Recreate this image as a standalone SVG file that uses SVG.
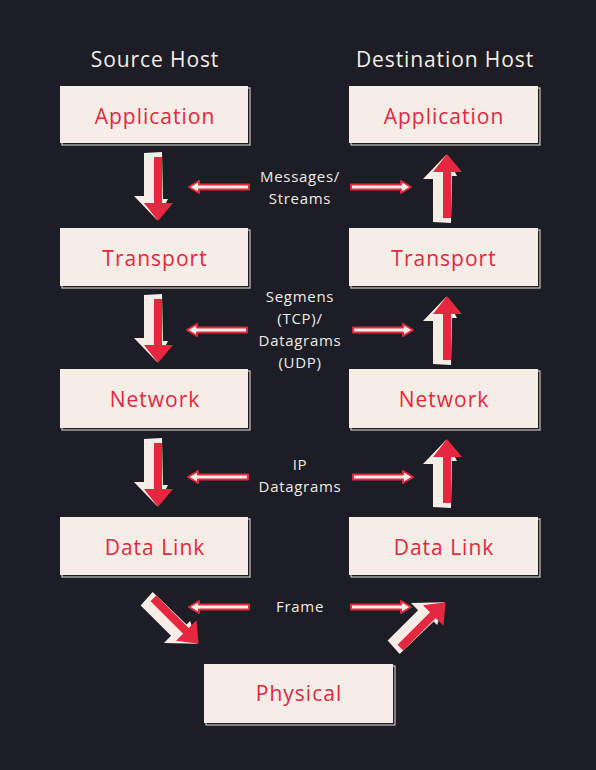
<svg xmlns="http://www.w3.org/2000/svg" xmlns:xlink="http://www.w3.org/1999/xlink" width="596" height="770" viewBox="0 0 596 770">
<style>
.bg{fill:#1c1d25}
.box{fill:#f5ede6}
.sh{fill:none;stroke:#c9c4be;stroke-width:1.2}
.lbl{font-family:"Open Sans","Noto Sans",sans-serif;font-size:21px;fill:#e5273f;text-anchor:middle;letter-spacing:1px}
.hdr{font-family:"Open Sans","Noto Sans",sans-serif;font-size:21px;fill:#f5ede6;text-anchor:middle;letter-spacing:0.9px}
.mid{font-family:"Open Sans","Noto Sans",sans-serif;font-size:15px;fill:#f0ebe5;text-anchor:middle;letter-spacing:0.7px}
.hc{fill:#f5ede6;stroke:#e5273f;stroke-width:2;stroke-linejoin:round}
.cream{fill:#f5ede6}
.red{fill:#e5273f}
</style>
<defs>
<g id="down">
<polygon class="cream" points="-14,-36 4,-37 5,10 10,10 -1,31 -24,7 -14,7"/>
<polygon class="red" points="-4,-32 4,-32 4,14 15,14 0,32 -14,14 -4,14"/>
</g>
<g id="up" transform="scale(1,-1)">
<use xlink:href="#down"/>
</g>
<polygon id="harr" class="hc" points="0,0 10,-6 10,-2.5 60,-2.5 60,2.5 10,2.5 10,6"/>
</defs>
<rect class="bg" x="0" y="0" width="596" height="770"/>
<text class="hdr" x="155" y="67">Source Host</text>
<text class="hdr" x="445" y="67">Destination Host</text>
<g id="src-app"><rect class="sh" x="62" y="88" width="188" height="57"/><rect class="box" x="60" y="86" width="188" height="57"/><text class="lbl" x="155" y="124">Application</text></g>
<g id="dst-app"><rect class="sh" x="351" y="88" width="189" height="57"/><rect class="box" x="349" y="86" width="189" height="57"/><text class="lbl" x="444" y="124">Application</text></g>
<g id="src-transport"><rect class="sh" x="62" y="230" width="188" height="58"/><rect class="box" x="60" y="228" width="188" height="58"/><text class="lbl" x="155" y="266">Transport</text></g>
<g id="dst-transport"><rect class="sh" x="351" y="230" width="189" height="58"/><rect class="box" x="349" y="228" width="189" height="58"/><text class="lbl" x="444" y="266">Transport</text></g>
<g id="src-network"><rect class="sh" x="62" y="371" width="188" height="59"/><rect class="box" x="60" y="369" width="188" height="59"/><text class="lbl" x="155" y="407">Network</text></g>
<g id="dst-network"><rect class="sh" x="351" y="371" width="189" height="59"/><rect class="box" x="349" y="369" width="189" height="59"/><text class="lbl" x="444" y="407">Network</text></g>
<g id="src-datalink"><rect class="sh" x="62" y="519" width="188" height="58"/><rect class="box" x="60" y="517" width="188" height="58"/><text class="lbl" x="155" y="555">Data Link</text></g>
<g id="dst-datalink"><rect class="sh" x="351" y="519" width="189" height="58"/><rect class="box" x="349" y="517" width="189" height="58"/><text class="lbl" x="444" y="555">Data Link</text></g>
<g id="physical"><rect class="sh" x="206" y="666" width="189" height="59"/><rect class="box" x="204" y="664" width="189" height="59"/><text class="lbl" x="299" y="701">Physical</text></g>
<g id="labels">
<text class="mid" x="300" y="182">Messages/</text>
<text class="mid" x="300" y="204">Streams</text>
<text class="mid" x="300" y="302">Segmens</text>
<text class="mid" x="300" y="324">(TCP)/</text>
<text class="mid" x="300" y="346">Datagrams</text>
<text class="mid" x="300" y="368">(UDP)</text>
<text class="mid" x="300" y="470">IP</text>
<text class="mid" x="300" y="492">Datagrams</text>
<text class="mid" x="300" y="612">Frame</text>
</g>
<g id="connectors">
<use xlink:href="#down" transform="translate(158,189)"/>
<use xlink:href="#down" transform="translate(158,331)"/>
<use xlink:href="#down" transform="translate(158,475)"/>
<use xlink:href="#up" transform="translate(447,186)"/>
<use xlink:href="#up" transform="translate(447,328)"/>
<use xlink:href="#up" transform="translate(447,471)"/>
<use xlink:href="#down" transform="translate(176,621) rotate(-45)"/>
<use xlink:href="#up" transform="translate(423,625) rotate(45)"/>
<use xlink:href="#harr" transform="translate(189,187)"/>
<use xlink:href="#harr" transform="translate(411,187) scale(-1,1)"/>
<use xlink:href="#harr" transform="translate(187,330)"/>
<use xlink:href="#harr" transform="translate(413,330) scale(-1,1)"/>
<use xlink:href="#harr" transform="translate(188,477)"/>
<use xlink:href="#harr" transform="translate(413,477) scale(-1,1)"/>
<use xlink:href="#harr" transform="translate(189,607)"/>
<use xlink:href="#harr" transform="translate(411,607) scale(-1,1)"/>
</g>
</svg>
